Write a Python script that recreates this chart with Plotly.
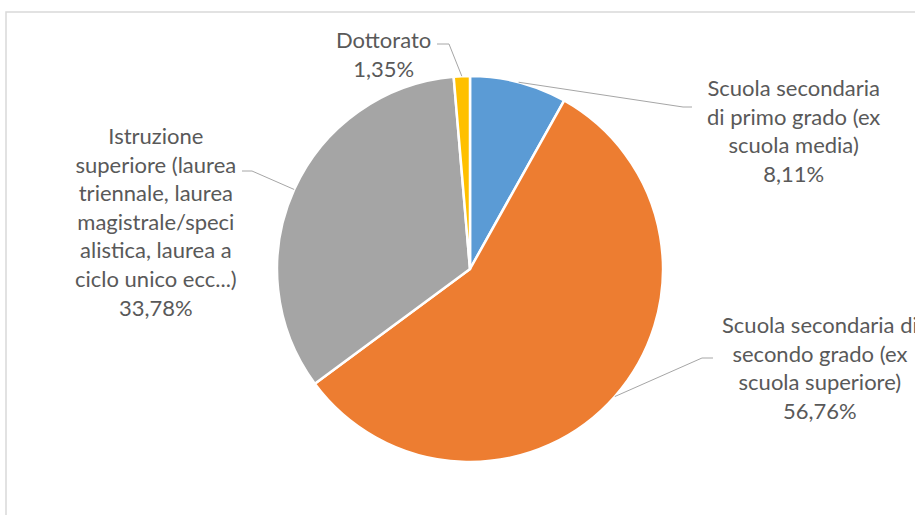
import math
import plotly.graph_objects as go

# ---- data ----
categories = [
    "Scuola secondaria di primo grado (ex scuola media)",
    "Scuola secondaria di secondo grado (ex scuola superiore)",
    "Istruzione superiore (laurea triennale, laurea magistrale/specialistica, laurea a ciclo unico ecc...)",
    "Dottorato",
]
values = [8.11, 56.76, 33.78, 1.35]
value_labels = ["8,11%", "56,76%", "33,78%", "1,35%"]
label_lines = [
    ["Scuola secondaria", "di primo grado (ex", "scuola media)"],
    ["Scuola secondaria di", "secondo grado (ex", "scuola superiore)"],
    ["Istruzione", "superiore (laurea", "triennale, laurea", "magistrale/speci",
     "alistica, laurea a", "ciclo unico ecc...)"],
    ["Dottorato"],
]
colors = ["#5B9BD5", "#ED7D31", "#A5A5A5", "#FFC000"]

# ---- layout (pixels) ----
W, H = 915, 515
CX, CY, R = 470, 269, 193
label_centers = [(793, 130), (820, 367), (156, 221), (383, 54)]
leader_elbows = [
    [(683, 107), (692, 107)],
    [(702, 358), (713, 358)],
    [(252, 171), (242, 171)],
    [(449, 44), (437, 44)],
]


def px(x, y):
    return x / W, 1 - y / H


fig = go.Figure()
x0, y1 = px(CX - R, CY - R)
x1, y0 = px(CX + R, CY + R)
fig.add_trace(go.Pie(
    labels=categories, values=values, sort=False, direction="clockwise",
    rotation=0, textinfo="none", hoverinfo="skip", showlegend=False,
    marker=dict(colors=colors, line=dict(color="white", width=2.5)),
    domain=dict(x=[x0, x1], y=[y0, y1]),
))

total = sum(values)
annotations = []
shapes = []
cum = 0.0
for i, v in enumerate(values):
    mid = (cum + v / 2) / total
    cum += v
    ang = mid * 2 * math.pi
    ex, ey = CX + R * math.sin(ang), CY - R * math.cos(ang)
    pts = [(ex, ey)] + leader_elbows[i]
    path = ""
    for j, (a, b) in enumerate(pts):
        pa, pb = px(a, b)
        path += ("M" if j == 0 else " L") + f" {pa:.5f} {pb:.5f}"
    shapes.append(dict(type="path", xref="paper", yref="paper", path=path,
                       line=dict(color="#A6A6A6", width=1)))
    lx, ly = px(*label_centers[i])
    annotations.append(dict(
        x=lx, y=ly, xref="paper", yref="paper", xanchor="center", yanchor="middle",
        text="<br>".join(label_lines[i] + [value_labels[i]]), showarrow=False,
        align="center", font=dict(family="Lato", size=22, color="#595959"),
    ))

# chart frame
fx0, fy1 = px(6, 12)
shapes.append(dict(type="rect", xref="paper", yref="paper", x0=fx0, y0=-0.05,
                   x1=1.05, y1=fy1, line=dict(color="#D9D9D9", width=1.5),
                   layer="below"))

fig.update_layout(
    width=W, height=H, margin=dict(l=0, r=0, t=0, b=0),
    paper_bgcolor="white", plot_bgcolor="white",
    annotations=annotations, shapes=shapes,
)
fig.write_html("out.html")
